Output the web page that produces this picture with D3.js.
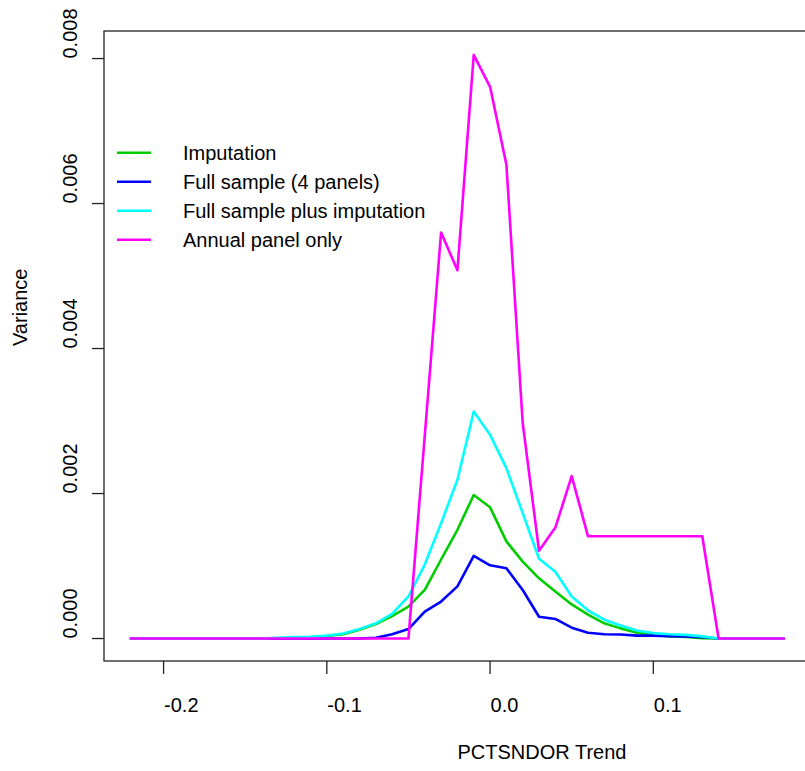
<!DOCTYPE html>
<html>
<head>
<meta charset="utf-8">
<script src="https://cdn.jsdelivr.net/npm/d3@7"></script>
<style>
  html, body { margin: 0; padding: 0; background: #fff; }
  svg text { font-family: "Liberation Sans", Arial, sans-serif; fill: #000; }
</style>
</head>
<body>
<svg id="chart" width="805" height="771"></svg>
<script>
// ---- data ----
const trend = [-0.22, -0.21, -0.20, -0.19, -0.18, -0.17, -0.16, -0.15, -0.14, -0.13,
               -0.12, -0.11, -0.10, -0.09, -0.08, -0.07, -0.06, -0.05, -0.04, -0.03,
               -0.02, -0.01, 0.00, 0.01, 0.02, 0.03, 0.04, 0.05, 0.06, 0.07,
               0.08, 0.09, 0.10, 0.11, 0.12, 0.13, 0.14, 0.15, 0.16, 0.17, 0.18];

const imputation = [0, 0, 0, 0, 0, 0, 0, 0, 0, 0.000005,
                    0.00001, 0.00002, 0.000035, 0.00006, 0.00012, 0.0002, 0.00031, 0.00044, 0.00067, 0.00109,
                    0.0015, 0.00198, 0.00181, 0.00134, 0.00106, 0.00083, 0.00065, 0.00047, 0.00033, 0.00021,
                    0.00014, 0.00008, 0.00005, 0.00003, 0.00002, 0.000005, 0, 0, 0, 0, 0];

const fullSample = [0, 0, 0, 0, 0, 0, 0, 0, 0, 0,
                    0, 0, 0, 0, 0, 0.00001, 0.00006, 0.00013, 0.00037, 0.00051,
                    0.00072, 0.00114, 0.00101, 0.00097, 0.00067, 0.0003, 0.00027, 0.00015, 0.00008, 0.00006,
                    0.000055, 0.00004, 0.00004, 0.000033, 0.000028, 0.00002, 0, 0, 0, 0, 0];

const fullPlusImp = [0, 0, 0, 0, 0, 0, 0, 0, 0, 0.00001,
                     0.00002, 0.000025, 0.00004, 0.00007, 0.00013, 0.00021, 0.00034, 0.00058, 0.00102, 0.00159,
                     0.00219, 0.00313, 0.00281, 0.00235, 0.00173, 0.0011, 0.00092, 0.00058, 0.00039, 0.00026,
                     0.00018, 0.00011, 0.000075, 0.00006, 0.00005, 0.00003, 0, 0, 0, 0, 0];

const annualOnly = [0, 0, 0, 0, 0, 0, 0, 0, 0, 0,
                    0, 0, 0, 0, 0, 0, 0, 0, 0.0028, 0.0056,
                    0.00508, 0.00805, 0.00761, 0.00654, 0.00297, 0.00121, 0.00153, 0.00224, 0.00141, 0.00141,
                    0.00141, 0.00141, 0.00141, 0.00141, 0.00141, 0.00141, 0, 0, 0, 0, 0];

const seriesNames = ["Imputation", "Full sample (4 panels)", "Full sample plus imputation", "Annual panel only"];
const seriesColors = ["#00CD00", "#0000FF", "#00FFFF", "#FF00FF"];
const seriesValues = [imputation, fullSample, fullPlusImp, annualOnly];

const xTicks = [-0.2, -0.1, 0.0, 0.1];
const xTickLabels = ["-0.2", "-0.1", "0.0", "0.1"];
const yTicks = [0, 0.002, 0.004, 0.006, 0.008];
const yTickLabels = ["0.000", "0.002", "0.004", "0.006", "0.008"];

const xTitle = "PCTSNDOR Trend";
const yTitle = "Variance";

// ---- layout ----
const svg = d3.select("#chart");
const x = d3.scaleLinear().domain([-0.2365, 0.1966]).range([104, 811]);
const y = d3.scaleLinear().domain([-0.00031, 0.00838]).range([661, 31]);
const fontSize = 20;

// box
const [x0, x1] = x.range();
const [yb, yt] = y.range();
svg.append("rect")
  .attr("x", x0).attr("y", yt)
  .attr("width", x1 - x0).attr("height", yb - yt)
  .attr("fill", "none").attr("stroke", "#222").attr("stroke-width", 1.3);

// lines
const line = d3.line().x((d, i) => x(trend[i])).y(d => y(d));
seriesValues.forEach((vals, k) => {
  svg.append("path")
    .datum(vals)
    .attr("d", line)
    .attr("fill", "none")
    .attr("stroke", seriesColors[k])
    .attr("stroke-width", 2.6)
    .attr("stroke-linejoin", "round")
    .attr("stroke-linecap", "round");
});

// x axis ticks
const gx = svg.append("g");
xTicks.forEach((t, i) => {
  gx.append("line")
    .attr("x1", x(t)).attr("x2", x(t))
    .attr("y1", yb).attr("y2", yb + 13)
    .attr("stroke", "#222").attr("stroke-width", 1.3);
  gx.append("text")
    .attr("x", x(t) + 0.5).attr("y", 712)
    .attr("font-size", fontSize)
    .attr("text-anchor", "start")
    .text(xTickLabels[i]);
});

// y axis ticks
const gy = svg.append("g");
yTicks.forEach((t, i) => {
  gy.append("line")
    .attr("x1", x0 - 12).attr("x2", x0)
    .attr("y1", y(t)).attr("y2", y(t))
    .attr("stroke", "#222").attr("stroke-width", 1.3);
  gy.append("text")
    .attr("transform", `translate(77,${y(t)}) rotate(-90)`)
    .attr("font-size", fontSize)
    .attr("text-anchor", "start")
    .text(yTickLabels[i]);
});

// titles
svg.append("text")
  .attr("x", (x0 + x1) / 2).attr("y", 759)
  .attr("font-size", fontSize)
  .attr("text-anchor", "start")
  .text(xTitle);

svg.append("text")
  .attr("transform", `translate(27,${(yb + yt) / 2}) rotate(-90)`)
  .attr("font-size", fontSize)
  .attr("text-anchor", "start")
  .text(yTitle);

// legend
const legY0 = 152.7, legStep = 29;
seriesNames.forEach((name, k) => {
  const ly = legY0 + k * legStep;
  svg.append("line")
    .attr("x1", 117).attr("x2", 151)
    .attr("y1", ly).attr("y2", ly)
    .attr("stroke", seriesColors[k]).attr("stroke-width", 2.6);
  svg.append("text")
    .attr("x", 183).attr("y", ly + 7.5)
    .attr("font-size", fontSize)
    .text(name);
});
</script>
</body>
</html>
